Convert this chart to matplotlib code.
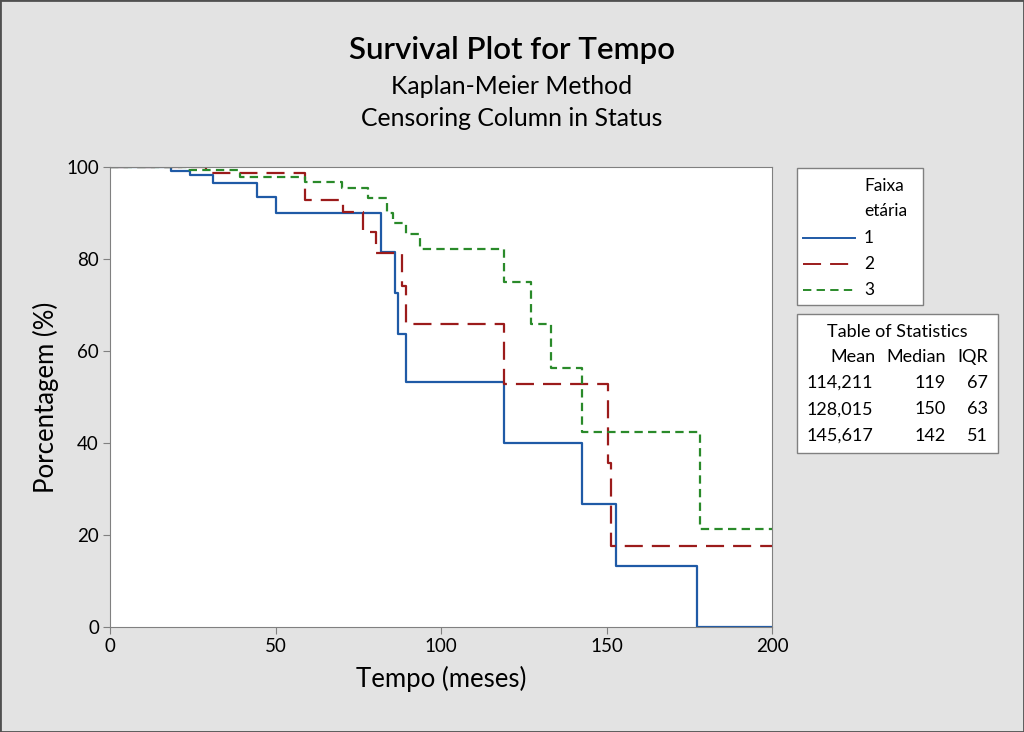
import numpy as np
import matplotlib
matplotlib.use("Agg")
import matplotlib.pyplot as plt
from matplotlib.patches import Rectangle
from matplotlib.lines import Line2D

plt.rcParams['font.family'] = ['Lato', 'DejaVu Sans']
plt.rcParams['lines.scale_dashes'] = False

# Kaplan-Meier steps (time in months, survival in %)
t1 = [0, 18.4, 24.2, 31.2, 44.3, 50, 82, 86.1, 86.9, 89.4, 119, 142.5, 152.9, 177.2, 200]
s1 = [100, 99.1, 98.2, 96.5, 93.5, 90.1, 81.6, 72.7, 63.6, 53.2, 39.9, 26.7, 13.3, 0, 0]

t2 = [0, 29, 58.9, 70.3, 76.3, 80.4, 88.1, 89.4, 119.1, 150.6, 151.5, 200]
s2 = [100, 98.6, 92.8, 90.3, 85.8, 81.2, 74.1, 65.9, 52.8, 35.6, 17.6, 17.6]

t3 = [0, 23.4, 39.3, 58.9, 70, 78, 83.8, 85.6, 89.4, 93.8, 119, 127.2, 133.2, 142.5, 178.2, 200]
s3 = [100, 99.4, 97.9, 96.8, 95.4, 93.2, 89.9, 87.8, 85.4, 82.1, 75.1, 65.9, 56.4, 42.3, 21.3, 21.3]

groups = ['1', '2', '3']
means = ['114,211', '128,015', '145,617']
medians = ['119', '150', '142']
iqrs = ['67', '63', '51']

colors = ['#1f5aa6', '#9b1b1b', '#2a8a2a']
dashes = [None, (13, 6.5), (6, 3.8)]

W, H = 1024, 732
fig = plt.figure(figsize=(W / 100, H / 100), dpi=100, facecolor='#e3e3e3')

def fx(px):
    return px / W

def fy(py):
    return 1 - py / H

# outer frame
fig.patches.append(Rectangle((0, 0), 1, 1, transform=fig.transFigure, fill=False,
                             edgecolor='#505050', linewidth=2))

ax = fig.add_axes([fx(110), fy(627), fx(772) - fx(110), fy(167) - fy(627)])
ax.set_facecolor('white')

for t, s, c, d in zip([t1, t2, t3], [s1, s2, s3], colors, dashes):
    line, = ax.step(t, s, where='post', color=c, linewidth=1.6)
    if d is not None:
        line.set_dashes(d)

ax.set_xlim(0, 200)
ax.set_ylim(0, 100)
ax.set_xticks([0, 50, 100, 150, 200])
ax.set_yticks([0, 20, 40, 60, 80, 100])
ax.tick_params(labelsize=13.5, length=5, color='#808080', pad=3)
for sp in ax.spines.values():
    sp.set_color('#808080')
ax.set_xlabel('Tempo (meses)', fontsize=18.5, labelpad=8)
ax.set_ylabel('Porcentagem (%)', fontsize=18.5, labelpad=5)

fig.text(0.5, fy(50), 'Survival Plot for Tempo', ha='center', va='center',
         fontsize=22.5, fontweight='semibold')
fig.text(0.5, fy(87), 'Kaplan-Meier Method', ha='center', va='center', fontsize=17.8)
fig.text(0.5, fy(119), 'Censoring Column in Status', ha='center', va='center', fontsize=17.8)

# legend box
fig.patches.append(Rectangle((fx(797), fy(305)), fx(923) - fx(797), fy(168) - fy(305),
                             transform=fig.transFigure, facecolor='white',
                             edgecolor='#808080', linewidth=1))
fig.text(fx(864), fy(186), 'Faixa', ha='left', va='center', fontsize=12.5)
fig.text(fx(864), fy(211), 'etária', ha='left', va='center', fontsize=12.5)
for i, (g, c, d) in enumerate(zip(groups, colors, dashes)):
    yy = fy(238 + 26 * i)
    ln = Line2D([fx(803), fx(855)], [yy, yy], transform=fig.transFigure,
                color=c, linewidth=1.4)
    if d is not None:
        ln.set_dashes(d)
    fig.lines.append(ln)
    fig.text(fx(864), yy, g, ha='left', va='center', fontsize=12.5)

# statistics box
fig.patches.append(Rectangle((fx(797), fy(453)), fx(998) - fx(797), fy(314) - fy(453),
                             transform=fig.transFigure, facecolor='white',
                             edgecolor='#808080', linewidth=1))
fig.text(fx(897), fy(332), 'Table of Statistics', ha='center', va='center', fontsize=13)
fig.text(fx(875), fy(357), 'Mean', ha='right', va='center', fontsize=13)
fig.text(fx(946), fy(357), 'Median', ha='right', va='center', fontsize=13)
fig.text(fx(988), fy(357), 'IQR', ha='right', va='center', fontsize=13)
for i in range(3):
    yy = fy(383 + 26.5 * i)
    fig.text(fx(807), yy, means[i], ha='left', va='center', fontsize=13)
    fig.text(fx(946), yy, medians[i], ha='right', va='center', fontsize=13)
    fig.text(fx(988), yy, iqrs[i], ha='right', va='center', fontsize=13)

fig.savefig('out.png', dpi=100, facecolor=fig.get_facecolor())
